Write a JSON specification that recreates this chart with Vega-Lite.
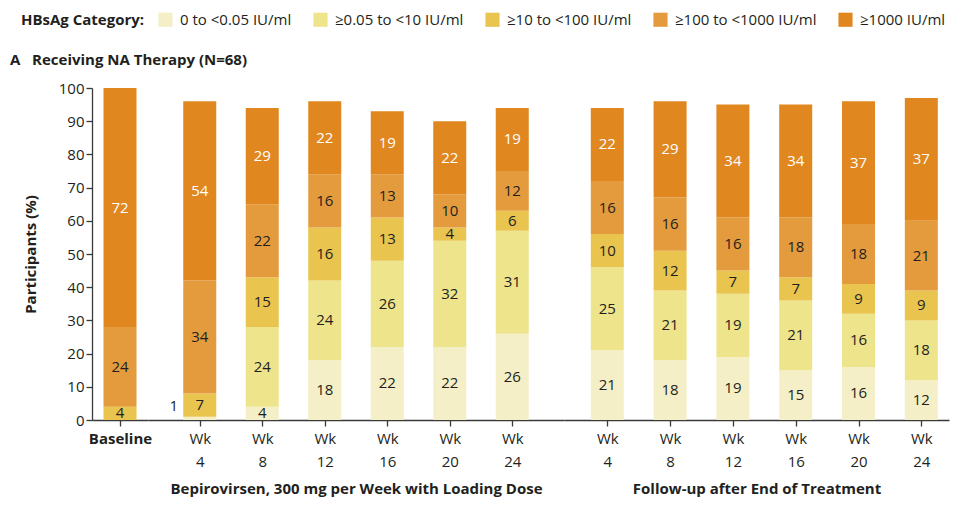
{
  "$schema": "https://vega.github.io/schema/vega-lite/v6.json",
  "background": "white",
  "padding": {"left": 10, "top": 12, "right": 5, "bottom": 5},
  "data": {"values": [
    {"phase": "Baseline", "time": "Baseline", "cat": "≥10 to <100 IU/ml", "v": 4},
    {"phase": "Baseline", "time": "Baseline", "cat": "≥100 to <1000 IU/ml", "v": 24},
    {"phase": "Baseline", "time": "Baseline", "cat": "≥1000 IU/ml", "v": 72},

    {"phase": "Treatment", "time": "Wk 4", "cat": "0 to <0.05 IU/ml", "v": 1},
    {"phase": "Treatment", "time": "Wk 4", "cat": "≥10 to <100 IU/ml", "v": 7},
    {"phase": "Treatment", "time": "Wk 4", "cat": "≥100 to <1000 IU/ml", "v": 34},
    {"phase": "Treatment", "time": "Wk 4", "cat": "≥1000 IU/ml", "v": 54},

    {"phase": "Treatment", "time": "Wk 8", "cat": "0 to <0.05 IU/ml", "v": 4},
    {"phase": "Treatment", "time": "Wk 8", "cat": "≥0.05 to <10 IU/ml", "v": 24},
    {"phase": "Treatment", "time": "Wk 8", "cat": "≥10 to <100 IU/ml", "v": 15},
    {"phase": "Treatment", "time": "Wk 8", "cat": "≥100 to <1000 IU/ml", "v": 22},
    {"phase": "Treatment", "time": "Wk 8", "cat": "≥1000 IU/ml", "v": 29},

    {"phase": "Treatment", "time": "Wk 12", "cat": "0 to <0.05 IU/ml", "v": 18},
    {"phase": "Treatment", "time": "Wk 12", "cat": "≥0.05 to <10 IU/ml", "v": 24},
    {"phase": "Treatment", "time": "Wk 12", "cat": "≥10 to <100 IU/ml", "v": 16},
    {"phase": "Treatment", "time": "Wk 12", "cat": "≥100 to <1000 IU/ml", "v": 16},
    {"phase": "Treatment", "time": "Wk 12", "cat": "≥1000 IU/ml", "v": 22},

    {"phase": "Treatment", "time": "Wk 16", "cat": "0 to <0.05 IU/ml", "v": 22},
    {"phase": "Treatment", "time": "Wk 16", "cat": "≥0.05 to <10 IU/ml", "v": 26},
    {"phase": "Treatment", "time": "Wk 16", "cat": "≥10 to <100 IU/ml", "v": 13},
    {"phase": "Treatment", "time": "Wk 16", "cat": "≥100 to <1000 IU/ml", "v": 13},
    {"phase": "Treatment", "time": "Wk 16", "cat": "≥1000 IU/ml", "v": 19},

    {"phase": "Treatment", "time": "Wk 20", "cat": "0 to <0.05 IU/ml", "v": 22},
    {"phase": "Treatment", "time": "Wk 20", "cat": "≥0.05 to <10 IU/ml", "v": 32},
    {"phase": "Treatment", "time": "Wk 20", "cat": "≥10 to <100 IU/ml", "v": 4},
    {"phase": "Treatment", "time": "Wk 20", "cat": "≥100 to <1000 IU/ml", "v": 10},
    {"phase": "Treatment", "time": "Wk 20", "cat": "≥1000 IU/ml", "v": 22},

    {"phase": "Treatment", "time": "Wk 24", "cat": "0 to <0.05 IU/ml", "v": 26},
    {"phase": "Treatment", "time": "Wk 24", "cat": "≥0.05 to <10 IU/ml", "v": 31},
    {"phase": "Treatment", "time": "Wk 24", "cat": "≥10 to <100 IU/ml", "v": 6},
    {"phase": "Treatment", "time": "Wk 24", "cat": "≥100 to <1000 IU/ml", "v": 12},
    {"phase": "Treatment", "time": "Wk 24", "cat": "≥1000 IU/ml", "v": 19},

    {"phase": "Follow-up", "time": "Wk 4", "cat": "0 to <0.05 IU/ml", "v": 21},
    {"phase": "Follow-up", "time": "Wk 4", "cat": "≥0.05 to <10 IU/ml", "v": 25},
    {"phase": "Follow-up", "time": "Wk 4", "cat": "≥10 to <100 IU/ml", "v": 10},
    {"phase": "Follow-up", "time": "Wk 4", "cat": "≥100 to <1000 IU/ml", "v": 16},
    {"phase": "Follow-up", "time": "Wk 4", "cat": "≥1000 IU/ml", "v": 22},

    {"phase": "Follow-up", "time": "Wk 8", "cat": "0 to <0.05 IU/ml", "v": 18},
    {"phase": "Follow-up", "time": "Wk 8", "cat": "≥0.05 to <10 IU/ml", "v": 21},
    {"phase": "Follow-up", "time": "Wk 8", "cat": "≥10 to <100 IU/ml", "v": 12},
    {"phase": "Follow-up", "time": "Wk 8", "cat": "≥100 to <1000 IU/ml", "v": 16},
    {"phase": "Follow-up", "time": "Wk 8", "cat": "≥1000 IU/ml", "v": 29},

    {"phase": "Follow-up", "time": "Wk 12", "cat": "0 to <0.05 IU/ml", "v": 19},
    {"phase": "Follow-up", "time": "Wk 12", "cat": "≥0.05 to <10 IU/ml", "v": 19},
    {"phase": "Follow-up", "time": "Wk 12", "cat": "≥10 to <100 IU/ml", "v": 7},
    {"phase": "Follow-up", "time": "Wk 12", "cat": "≥100 to <1000 IU/ml", "v": 16},
    {"phase": "Follow-up", "time": "Wk 12", "cat": "≥1000 IU/ml", "v": 34},

    {"phase": "Follow-up", "time": "Wk 16", "cat": "0 to <0.05 IU/ml", "v": 15},
    {"phase": "Follow-up", "time": "Wk 16", "cat": "≥0.05 to <10 IU/ml", "v": 21},
    {"phase": "Follow-up", "time": "Wk 16", "cat": "≥10 to <100 IU/ml", "v": 7},
    {"phase": "Follow-up", "time": "Wk 16", "cat": "≥100 to <1000 IU/ml", "v": 18},
    {"phase": "Follow-up", "time": "Wk 16", "cat": "≥1000 IU/ml", "v": 34},

    {"phase": "Follow-up", "time": "Wk 20", "cat": "0 to <0.05 IU/ml", "v": 16},
    {"phase": "Follow-up", "time": "Wk 20", "cat": "≥0.05 to <10 IU/ml", "v": 16},
    {"phase": "Follow-up", "time": "Wk 20", "cat": "≥10 to <100 IU/ml", "v": 9},
    {"phase": "Follow-up", "time": "Wk 20", "cat": "≥100 to <1000 IU/ml", "v": 18},
    {"phase": "Follow-up", "time": "Wk 20", "cat": "≥1000 IU/ml", "v": 37},

    {"phase": "Follow-up", "time": "Wk 24", "cat": "0 to <0.05 IU/ml", "v": 12},
    {"phase": "Follow-up", "time": "Wk 24", "cat": "≥0.05 to <10 IU/ml", "v": 18},
    {"phase": "Follow-up", "time": "Wk 24", "cat": "≥10 to <100 IU/ml", "v": 9},
    {"phase": "Follow-up", "time": "Wk 24", "cat": "≥100 to <1000 IU/ml", "v": 21},
    {"phase": "Follow-up", "time": "Wk 24", "cat": "≥1000 IU/ml", "v": 37}
  ]},
  "config": {
    "font": "Open Sans",
    "view": {"stroke": null},
    "axis": {
      "labelFontSize": 15, "labelColor": "#231f20", "titleColor": "#231f20",
      "titleFontSize": 15, "titleFontWeight": "bold",
      "domainColor": "#3a3a3a", "tickColor": "#3a3a3a", "domainWidth": 1.3, "tickWidth": 1.3,
      "tickSize": 6, "grid": false
    },
    "legend": {
      "direction": "horizontal", "titleOrient": "left",
      "titleFontSize": 15, "titleFontWeight": "bold", "titleColor": "#231f20",
      "labelFontSize": 15, "labelColor": "#231f20",
      "symbolType": "square", "symbolSize": 200, "symbolStrokeWidth": 0,
      "columnPadding": 21, "labelOffset": 7, "titlePadding": 13
    },
    "text": {"fontSize": 15}
  },
  "vconcat": [
    {
      "title": {"text": "A\u00a0\u00a0 Receiving NA Therapy (N=68)", "anchor": "start", "frame": "group", "dx": -82, "fontSize": 15, "fontWeight": "bold", "color": "#231f20", "offset": 13},
      "spacing": 0,
      "bounds": "flush",
      "hconcat": [
        {
          "width": 56, "height": 332,
          "transform": [
            {"filter": "datum.phase === 'Baseline'"},
            {"stack": "v", "groupby": ["time"], "sort": [{"field": "cat"}], "as": ["y0", "y1"]}
          ],
          "layer": [
            {
              "mark": {"type": "bar", "width": 33},
              "encoding": {
                "x": {"field": "time", "type": "nominal", "scale": {"type": "point", "padding": 0.5, "align": 0.5},
                      "axis": {"title": null, "labelAngle": 0, "labelFontWeight": "bold", "labelPadding": 5}},
                "y": {"field": "y0", "type": "quantitative", "scale": {"domain": [0, 100]},
                      "axis": {"title": "Participants (%)", "values": [0,10,20,30,40,50,60,70,80,90,100], "labelPadding": 2, "titlePadding": 20}},
                "y2": {"field": "y1"},
                "color": {"field": "cat", "type": "nominal",
                  "scale": {"domain": ["0 to <0.05 IU/ml", "≥0.05 to <10 IU/ml", "≥10 to <100 IU/ml", "≥100 to <1000 IU/ml", "≥1000 IU/ml"],
                            "range": ["#F4EFC6", "#EEE48C", "#E9C44F", "#E49B3D", "#E0871F"]},
                  "legend": {"title": "HBsAg Category:", "orient": "none", "legendX": -71, "legendY": -76}}
              }
            },
            {
              "transform": [{"filter": "datum.v >= 3"}, {"fold": ["y0", "y1"], "as": ["k", "yy"]}],
              "mark": {"type": "text", "baseline": "middle", "align": "center"},
              "encoding": {
                "x": {"field": "time", "type": "nominal"},
                "y": {"aggregate": "mean", "field": "yy", "type": "quantitative",
                      "axis": {"title": "Participants (%)", "values": [0,10,20,30,40,50,60,70,80,90,100], "labelPadding": 2, "titlePadding": 20}},
                "detail": {"field": "cat"},
                "text": {"field": "v", "type": "quantitative"},
                "color": {"condition": {"test": "datum.cat === '≥1000 IU/ml'", "value": "white"}, "value": "#231f20"}
              }
            }
          ]
        },
        {
          "width": 416, "height": 332,
          "transform": [
            {"filter": "datum.phase === 'Treatment'"},
            {"stack": "v", "groupby": ["time"], "sort": [{"field": "cat"}], "as": ["y0", "y1"]}
          ],
          "layer": [
            {
              "mark": {"type": "bar", "width": 33},
              "encoding": {
                "x": {"field": "time", "type": "nominal", "sort": ["Wk 4", "Wk 8", "Wk 12", "Wk 16", "Wk 20", "Wk 24"],
                      "scale": {"type": "point", "padding": 0.828, "align": 0.5},
                      "axis": {"title": "Bepirovirsen, 300 mg per Week with Loading Dose", "labelAngle": 0, "labelExpr": "split(datum.label, ' ')", "labelLineHeight": 23, "labelPadding": 5, "titlePadding": 12}},
                "y": {"field": "y0", "type": "quantitative", "scale": {"domain": [0, 100]}, "axis": null},
                "y2": {"field": "y1"},
                "color": {"field": "cat", "type": "nominal"}
              }
            },
            {
              "transform": [{"filter": "datum.v >= 3"}, {"fold": ["y0", "y1"], "as": ["k", "yy"]}],
              "mark": {"type": "text", "baseline": "middle", "align": "center"},
              "encoding": {
                "x": {"field": "time", "type": "nominal", "sort": ["Wk 4", "Wk 8", "Wk 12", "Wk 16", "Wk 20", "Wk 24"]},
                "y": {"aggregate": "mean", "field": "yy", "type": "quantitative", "axis": null},
                "detail": {"field": "cat"},
                "text": {"field": "v", "type": "quantitative"},
                "color": {"condition": {"test": "datum.cat === '≥1000 IU/ml'", "value": "white"}, "value": "#231f20"}
              }
            },
            {
              "transform": [{"filter": "datum.v < 3"}, {"fold": ["y0", "y1"], "as": ["k", "yy"]}],
              "mark": {"type": "text", "baseline": "middle", "align": "center", "dx": -26, "dy": -12, "color": "#231f20"},
              "encoding": {
                "x": {"field": "time", "type": "nominal", "sort": ["Wk 4", "Wk 8", "Wk 12", "Wk 16", "Wk 20", "Wk 24"]},
                "y": {"aggregate": "mean", "field": "yy", "type": "quantitative", "axis": null},
                "detail": {"field": "cat"},
                "text": {"field": "v", "type": "quantitative"}
              }
            }
          ]
        },
        {
          "width": 385, "height": 332,
          "transform": [
            {"filter": "datum.phase === 'Follow-up'"},
            {"stack": "v", "groupby": ["time"], "sort": [{"field": "cat"}], "as": ["y0", "y1"]}
          ],
          "layer": [
            {
              "mark": {"type": "bar", "width": 33},
              "encoding": {
                "x": {"field": "time", "type": "nominal", "sort": ["Wk 4", "Wk 8", "Wk 12", "Wk 16", "Wk 20", "Wk 24"],
                      "scale": {"type": "point", "padding": 0.565, "align": 0.61},
                      "axis": {"title": "Follow-up after End of Treatment", "labelAngle": 0, "labelExpr": "split(datum.label, ' ')", "labelLineHeight": 23, "labelPadding": 5, "titlePadding": 12}},
                "y": {"field": "y0", "type": "quantitative", "scale": {"domain": [0, 100]}, "axis": null},
                "y2": {"field": "y1"},
                "color": {"field": "cat", "type": "nominal"}
              }
            },
            {
              "transform": [{"filter": "datum.v >= 3"}, {"fold": ["y0", "y1"], "as": ["k", "yy"]}],
              "mark": {"type": "text", "baseline": "middle", "align": "center"},
              "encoding": {
                "x": {"field": "time", "type": "nominal", "sort": ["Wk 4", "Wk 8", "Wk 12", "Wk 16", "Wk 20", "Wk 24"]},
                "y": {"aggregate": "mean", "field": "yy", "type": "quantitative", "axis": null},
                "detail": {"field": "cat"},
                "text": {"field": "v", "type": "quantitative"},
                "color": {"condition": {"test": "datum.cat === '≥1000 IU/ml'", "value": "white"}, "value": "#231f20"}
              }
            }
          ]
        }
      ]
    }
  ]
}
